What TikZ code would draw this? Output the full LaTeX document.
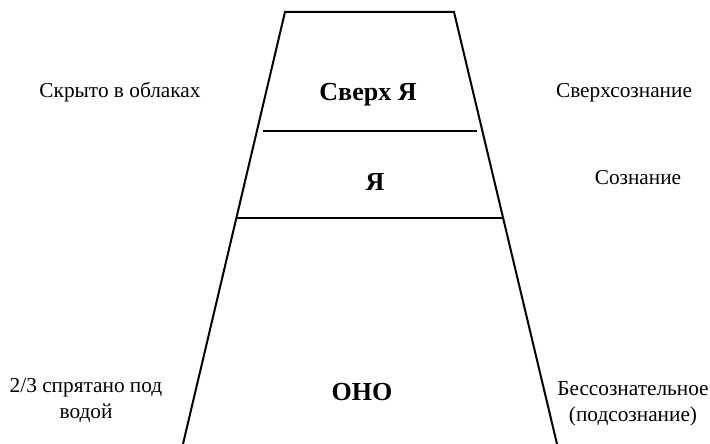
\documentclass[tikz,border=0pt]{standalone}
\usepackage{fontspec}
\setmainfont{Liberation Serif}
\tikzset{
  edge/.style={line width=2pt, line cap=butt},
  sidelabel/.style={font=\fontsize{21.3}{26}\selectfont, align=center, anchor=base, inner sep=0pt},
  layerlabel/.style={font=\fontsize{26}{30}\selectfont\bfseries, anchor=base, inner sep=0pt}
}
\begin{document}
\begin{tikzpicture}[x=1pt,y=-1pt]
\useasboundingbox (0,0) rectangle (710,444);
\begin{scope}
\clip (0,0) rectangle (710,444);
\coordinate (tl) at (285,12);
\coordinate (tr) at (454,12);
\coordinate (bl) at (183,444);
\coordinate (br) at (557,444);
\coordinate (l1a) at (263,130.5);
\coordinate (l1b) at (477,130.5);
\coordinate (l2a) at (236,218.3);
\coordinate (l2b) at (503.5,218.3);
\draw[edge, line join=miter] (bl) -- (tl) -- (tr) -- (br);
\draw[edge] (l1a) -- (l1b);
\draw[edge] (l2a) -- (l2b);
\end{scope}
\node[layerlabel] (superego) at (368,100) {Сверх Я};
\node[layerlabel] (ego) at (375,190) {Я};
\node[layerlabel] (id) at (362,400) {ОНО};
\node[sidelabel] (clouds) at (120,98) {Скрыто в облаках};
\node[sidelabel] (supercons) at (624,98) {Сверхсознание};
\node[sidelabel] (cons) at (638,184) {Сознание};
\node[sidelabel, anchor=base] (water) at (86,418) {2/3 спрятано под\\водой};
\node[sidelabel, anchor=base] (uncons) at (633,421) {Бессознательное\\(подсознание)};
\end{tikzpicture}
\end{document}
